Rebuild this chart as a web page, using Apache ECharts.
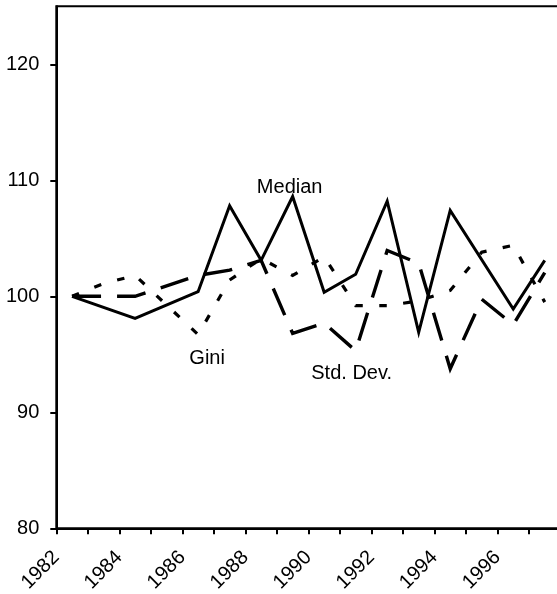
<!DOCTYPE html>
<html>
<head>
<meta charset="utf-8">
<script src="https://cdn.jsdelivr.net/npm/echarts@6/dist/echarts.min.js"></script>
<style>
  html, body { margin: 0; padding: 0; background: #fff; }
  #chart { width: 557px; height: 594px; }
</style>
</head>
<body>
<div id="chart"></div>
<script>
// Index values (1982 = 100); null marks years without an observation
const years = ['1982', '1983', '1984', '1985', '1986', '1987', '1988', '1989',
               '1990', '1991', '1992', '1993', '1994', '1995', '1996', '1997'];
const median = [100, null, 98.1, null, 100.4, 107.8, 103.1, 108.6,
                100.35, 101.9, 108.2, 96.9, 107.4, null, 98.9, 103.1];
const gini   = [100, 101.1, 101.8, null, 96.7, 101.4, 103.25, 101.8,
                103.4, 99.2, 99.2, 99.6, 100.5, 103.8, 104.4, 99.5];
const stdDev = [100, null, 100, null, 101.8, 102.25, 103.1, 96.8,
                97.7, 95.3, 103.95, 102.85, 93.75, 99.75, 97.55, 102.05];

// Axis ticks and labels
const yearTickLabels = [1982, 1984, 1986, 1988, 1990, 1992, 1994, 1996];
const valueTicks = [80, 90, 100, 110, 120];

// In-chart series names and where they sit (category, value)
const seriesNames = ['Median', 'Gini', 'Std. Dev.'];
const nameYears = ['1989', '1986', '1991'];
const nameValues = [109.4, 94.65, 93.35];

const FONT = "'Liberation Sans', Arial, sans-serif";
const nameOffsets = [[-3, 0], [9, 0], [-4, 0]];

const yearBounds = years.map(Number);

const chart = echarts.init(document.getElementById('chart'), null, { renderer: 'canvas' });

const lineBase = {
  type: 'line',
  xAxisIndex: 0,
  yAxisIndex: 0,
  symbol: 'none',
  showSymbol: false,
  connectNulls: true,
  silent: true,
  animation: false
};

chart.setOption({
  animation: false,
  backgroundColor: '#fff',
  grid: {
    left: 56.3,
    right: -3.5,
    top: 6.3,
    bottom: 65.7,
    outerBoundsMode: 'none',
    containLabel: false,
    show: true,
    borderColor: '#000',
    borderWidth: 2,
    backgroundColor: 'transparent'
  },
  xAxis: [
    {
      type: 'category',
      data: years,
      boundaryGap: true,
      show: false
    },
    {
      type: 'value',
      position: 'bottom',
      min: 1982,
      max: 1998,
      interval: 1,
      splitLine: { show: false },
      axisLine: { show: true, onZero: false, lineStyle: { color: '#000', width: 2 } },
      axisTick: {
        show: true,
        length: 6,
        customValues: yearBounds,
        lineStyle: { color: '#000', width: 2 }
      },
      axisLabel: {
        show: true,
        rotate: 45,
        margin: 26,
        customValues: yearTickLabels,
        formatter: v => String(v),
        color: '#000',
        fontFamily: FONT,
        fontSize: 20
      }
    }
  ],
  yAxis: {
    type: 'value',
    min: 80,
    max: 125,
    interval: 10,
    splitLine: { show: false },
    axisLine: { show: true, onZero: false, lineStyle: { color: '#000', width: 2 } },
    axisTick: {
      show: true,
      length: 6,
      customValues: valueTicks,
      lineStyle: { color: '#000', width: 2 }
    },
    axisLabel: {
      show: true,
      margin: 17,
      customValues: valueTicks,
      color: '#000',
      fontFamily: FONT,
      fontSize: 20
    }
  },
  series: [
    Object.assign({}, lineBase, {
      name: 'Std. Dev.',
      data: stdDev,
      lineStyle: { color: '#000', width: 3.4, type: [29, 16], cap: 'butt', join: 'miter' }
    }),
    Object.assign({}, lineBase, {
      name: 'Gini',
      data: gini,
      lineStyle: { color: '#000', width: 3.2, type: [7.5, 16.5], cap: 'butt', join: 'miter' }
    }),
    Object.assign({}, lineBase, {
      name: 'Median',
      data: median,
      lineStyle: { color: '#000', width: 3, type: 'solid', cap: 'butt', join: 'miter', miterLimit: 10 }
    }),
    {
      type: 'scatter',
      xAxisIndex: 0,
      yAxisIndex: 0,
      symbolSize: 0,
      silent: true,
      animation: false,
      itemStyle: { color: '#000', opacity: 1 },
      data: seriesNames.map((name, i) => ({
        name: name,
        value: [nameYears[i], nameValues[i]],
        label: { offset: nameOffsets[i] }
      })),
      label: {
        show: true,
        position: [0, 0],
        align: 'center',
        verticalAlign: 'middle',
        formatter: '{b}',
        color: '#000',
        opacity: 1,
        textBorderWidth: 0,
        textShadowBlur: 0,
        fontFamily: FONT,
        fontSize: 20
      }
    }
  ]
});
</script>
</body>
</html>
